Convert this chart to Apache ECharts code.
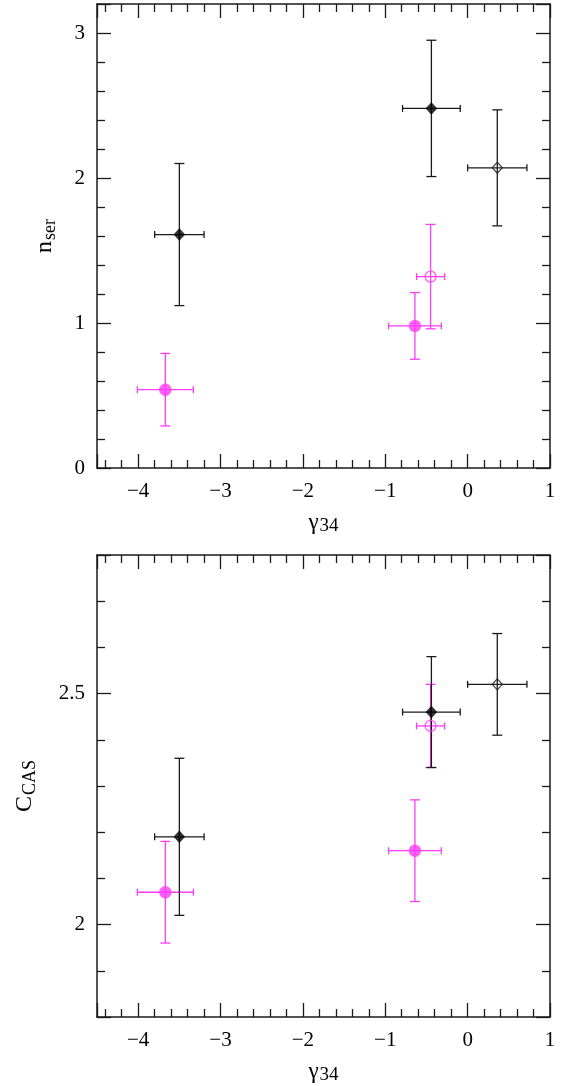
<!DOCTYPE html>
<html>
<head>
<meta charset="utf-8">
<script src="https://cdn.jsdelivr.net/npm/echarts@6/dist/echarts.min.js"></script>
<style>
html,body{margin:0;padding:0;background:#fff;}
#c{width:566px;height:1086px;}
</style>
</head>
<body>
<div id="c"></div>
<script>
// ---- data (gamma_34 on x) ----
const xFilledBlack = [-3.50, -0.44];
const xErrFilledBlack = [0.30, 0.35];
const xOpenBlack = [0.36];
const xErrOpenBlack = [0.36];
const xFilledMag = [-3.67, -0.64];
const xErrFilledMag = [0.34, 0.32];
const xOpenMag = [-0.45];
const xErrOpenMag = [0.17];

// top panel: n_ser
const nserFilledBlack = [1.61, 2.48];
const nserErrFilledBlack = [0.49, 0.47];
const nserOpenBlack = [2.07];
const nserErrOpenBlack = [0.40];
const nserFilledMag = [0.54, 0.98];
const nserErrFilledMag = [0.25, 0.23];
const nserOpenMag = [1.32];
const nserErrOpenMag = [0.36];

// bottom panel: C_CAS
const casFilledBlack = [2.19, 2.46];
const casErrFilledBlack = [0.17, 0.12];
const casOpenBlack = [2.52];
const casErrOpenBlack = [0.11];
const casFilledMag = [2.07, 2.16];
const casErrFilledMag = [0.11, 0.11];
const casOpenMag = [2.43];
const casErrOpenMag = [0.09];

const xTickLabels = ['−4', '−3', '−2', '−1', '0', '1'];

const BLACK = '#1a1a1a';
const MAG = '#ff3cf6';
const FONT = 'Liberation Serif';

function rows(xs, xe, ys, ye) {
  return xs.map((x, i) => [x, ys[i], xe[i], ye[i]]);
}

function errSeries(data, color, idx) {
  return {
    type: 'custom', xAxisIndex: idx * 2, yAxisIndex: idx * 2, data: data, z: 2,
    silent: true,
    renderItem: function (params, api) {
      const x = api.value(0), y = api.value(1), xe = api.value(2), ye = api.value(3);
      const pTop = api.coord([x, y + ye]);
      const pBot = api.coord([x, y - ye]);
      const pL = api.coord([x - xe, y]);
      const pR = api.coord([x + xe, y]);
      const st = { stroke: color, lineWidth: 1.3 };
      const cw = 5, ch = 3.5;
      const ln = (x1, y1, x2, y2) => ({ type: 'line', shape: { x1, y1, x2, y2 }, style: st });
      return {
        type: 'group',
        children: [
          ln(pTop[0], pTop[1], pBot[0], pBot[1]),
          ln(pTop[0] - cw, pTop[1], pTop[0] + cw, pTop[1]),
          ln(pBot[0] - cw, pBot[1], pBot[0] + cw, pBot[1]),
          ln(pL[0], pL[1], pR[0], pR[1]),
          ln(pL[0], pL[1] - ch, pL[0], pL[1] + ch),
          ln(pR[0], pR[1] - ch, pR[0], pR[1] + ch)
        ]
      };
    }
  };
}

function markSeries(data, symbol, size, color, open, idx) {
  return {
    type: 'scatter', xAxisIndex: idx * 2, yAxisIndex: idx * 2, z: 3,
    data: data.map(r => [r[0], r[1]]),
    symbol: symbol, symbolSize: size, silent: true,
    itemStyle: open ? { color: 'rgba(255,255,255,0)', borderColor: color, borderWidth: 1.3 }
                    : { color: color, borderColor: color, borderWidth: 0.5 },
    emphasis: { disabled: true }
  };
}

const axisLineStyle = { onZero: false, lineStyle: { color: BLACK, width: 1.5 } };
const tickStyle = { inside: true, length: 14, lineStyle: { color: BLACK, width: 1.3 } };
const minorStyle = { show: true, splitNumber: 5, length: 8, lineStyle: { color: BLACK, width: 1.3 } };
const labelStyle = { fontFamily: FONT, fontSize: 21, color: '#000' };

function xAxes(gi) {
  const base = {
    type: 'value', gridIndex: gi, min: -4.5, max: 1, splitNumber: 5, minInterval: 1, maxInterval: 1,
    axisLine: axisLineStyle, axisTick: tickStyle, minorTick: minorStyle,
    splitLine: { show: false }, minorSplitLine: { show: false }
  };
  return [
    Object.assign({}, base, {
      position: 'bottom',
      axisLabel: Object.assign({}, labelStyle, {
        margin: 13, showMinLabel: false,
        formatter: v => { const i = Math.round(v) + 4; return (Math.abs(v - Math.round(v)) < 1e-6 && i >= 0 && i < xTickLabels.length) ? xTickLabels[i] : ''; }
      }),
      name: '{g|γ}{s|34}', nameLocation: 'middle', nameGap: 43,
      nameTextStyle: { fontFamily: FONT, color: '#000', rich: {
        g: { fontFamily: FONT, fontSize: 23, verticalAlign: 'top', lineHeight: 23 },
        s: { fontFamily: FONT, fontSize: 19, verticalAlign: 'top', lineHeight: 23, padding: [6, 0, 0, 1] }
      } }
    }),
    Object.assign({}, base, { position: 'top', axisLabel: { show: false } })
  ];
}

function yAxes(gi, min, max, split, interval, minorSplit, name, rich, gap) {
  const base = {
    type: 'value', gridIndex: gi, min: min, max: max, splitNumber: split,
    minInterval: interval, maxInterval: interval,
    axisLine: axisLineStyle, axisTick: tickStyle,
    minorTick: Object.assign({}, minorStyle, { splitNumber: minorSplit }),
    splitLine: { show: false }, minorSplitLine: { show: false }
  };
  return [
    Object.assign({}, base, {
      position: 'left',
      axisLabel: Object.assign({}, labelStyle, { margin: 12, showMaxLabel: false, showMinLabel: min === 0,
        formatter: v => String(v) }),
      name: name, nameLocation: 'middle', nameRotate: 90, nameGap: gap,
      nameTextStyle: { fontFamily: FONT, color: '#000', rich: rich }
    }),
    Object.assign({}, base, { position: 'right', axisLabel: { show: false } })
  ];
}

const richN = {
  n: { fontFamily: FONT, fontSize: 24, verticalAlign: 'top', lineHeight: 24 },
  s: { fontFamily: FONT, fontSize: 18, verticalAlign: 'top', lineHeight: 24, padding: [8, 0, 0, 1] }
};
const richC = {
  n: { fontFamily: FONT, fontSize: 24, verticalAlign: 'top', lineHeight: 24 },
  s: { fontFamily: FONT, fontSize: 18, verticalAlign: 'top', lineHeight: 24, padding: [8, 0, 0, 1] }
};

const topFB = rows(xFilledBlack, xErrFilledBlack, nserFilledBlack, nserErrFilledBlack);
const topOB = rows(xOpenBlack, xErrOpenBlack, nserOpenBlack, nserErrOpenBlack);
const topFM = rows(xFilledMag, xErrFilledMag, nserFilledMag, nserErrFilledMag);
const topOM = rows(xOpenMag, xErrOpenMag, nserOpenMag, nserErrOpenMag);
const botFB = rows(xFilledBlack, xErrFilledBlack, casFilledBlack, casErrFilledBlack);
const botOB = rows(xOpenBlack, xErrOpenBlack, casOpenBlack, casErrOpenBlack);
const botFM = rows(xFilledMag, xErrFilledMag, casFilledMag, casErrFilledMag);
const botOM = rows(xOpenMag, xErrOpenMag, casOpenMag, casErrOpenMag);

const chart = echarts.init(document.getElementById('c'), null, { renderer: 'canvas' });
chart.setOption({
  animation: false,
  backgroundColor: '#fff',
  grid: [
    { left: 97, top: 4, width: 453, height: 464 },
    { left: 97, top: 555, width: 453, height: 464 }
  ],
  xAxis: [].concat(xAxes(0), xAxes(1)),
  yAxis: [].concat(
    yAxes(0, 0, 3.2, 3, 1, 5, '{n|n}{s|ser}', richN, 40),
    yAxes(1, 1.8, 2.8, 2, 0.5, 5, '{n|C}{s|CAS}', richC, 60)
  ),
  series: [
    errSeries(topFM, MAG, 0), errSeries(topOM, MAG, 0),
    errSeries(topFB, BLACK, 0), errSeries(topOB, BLACK, 0),
    markSeries(topFM, 'circle', 12, MAG, false, 0),
    markSeries(topOM, 'circle', 11, MAG, true, 0),
    markSeries(topFB, 'diamond', [11, 12], '#000', false, 0),
    markSeries(topOB, 'diamond', [10, 11], BLACK, true, 0),
    errSeries(botFM, MAG, 1), errSeries(botOM, MAG, 1),
    errSeries(botFB, BLACK, 1), errSeries(botOB, BLACK, 1),
    markSeries(botFM, 'circle', 12, MAG, false, 1),
    markSeries(botOM, 'circle', 11, MAG, true, 1),
    markSeries(botFB, 'diamond', [11, 12], '#000', false, 1),
    markSeries(botOB, 'diamond', [10, 11], BLACK, true, 1)
  ]
});
</script>
</body>
</html>
